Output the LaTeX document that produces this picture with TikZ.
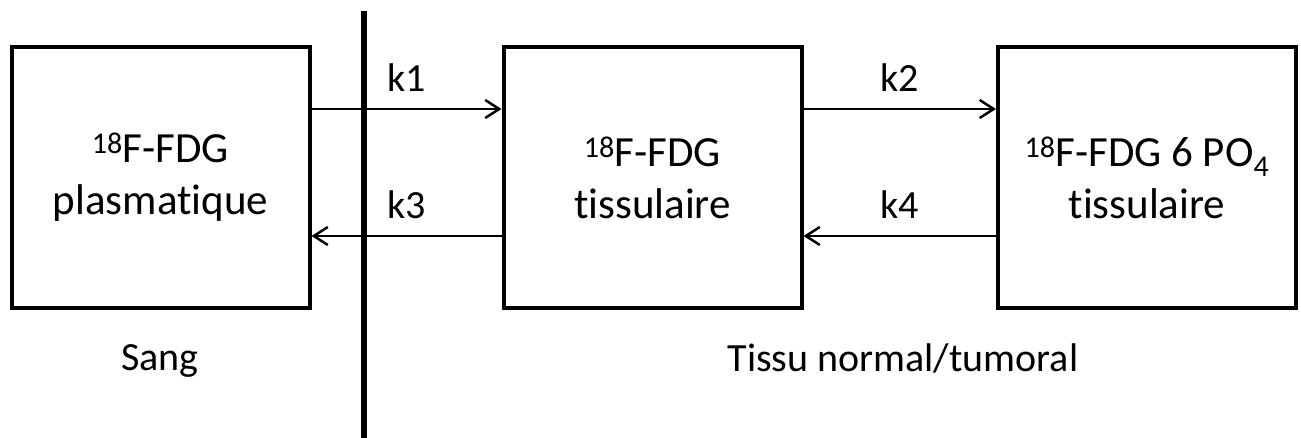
\documentclass[tikz,border=0pt]{standalone}
\usepackage{fontspec}
\setmainfont{Carlito}[Ligatures=NoCommon]
\usetikzlibrary{arrows.meta}
\begin{document}
\begin{tikzpicture}[x=1pt,y=-1pt,
  box/.style={draw=black,line width=4pt,minimum width=298pt,minimum height=261pt,
    inner sep=0pt,align=center,font=\fontsize{43}{52}\selectfont},
  arr/.style={line width=2.5pt,-{Straight Barb[length=14pt,width=18pt,line width=2.5pt]}},
  lbl/.style={font=\fontsize{40}{48}\selectfont,anchor=base},
  klbl/.style={font=\fontsize{40}{48}\selectfont,anchor=base,midway,yshift=17pt}]
\useasboundingbox (0,0) rectangle (1301,438);
\node[box] (b1) at (160.5,177.5) {\textsuperscript{18}F-FDG\\plasmatique};
\node[box] (b2) at (652.5,177.5) {\textsuperscript{18}F-FDG\\tissulaire};
\node[box] (b3) at (1147,177.5) {\textsuperscript{18}F-FDG 6 PO\textsubscript{4}\\tissulaire};
\coordinate (wt) at (364,11);
\coordinate (wb) at (364,440);
\draw[line width=5.5pt] (wt) -- (wb);
\draw[arr] ([yshift=68.5pt]b1.east) -- node[klbl] (k1) {k1} ([yshift=68.5pt]b2.west);
\draw[arr] ([yshift=-58.5pt]b2.west) -- node[klbl] (k3) {k3} ([yshift=-58.5pt]b1.east);
\draw[arr] ([yshift=68.5pt]b2.east) -- node[klbl] (k2) {k2} ([yshift=68.5pt]b3.west);
\draw[arr] ([yshift=-58.5pt]b3.west) -- node[klbl] (k4) {k4} ([yshift=-58.5pt]b2.east);
\node[lbl] (sang) at (160,370) {Sang};
\node[lbl] (tissu) at (903,371) {Tissu normal/tumoral};
\end{tikzpicture}
\end{document}
